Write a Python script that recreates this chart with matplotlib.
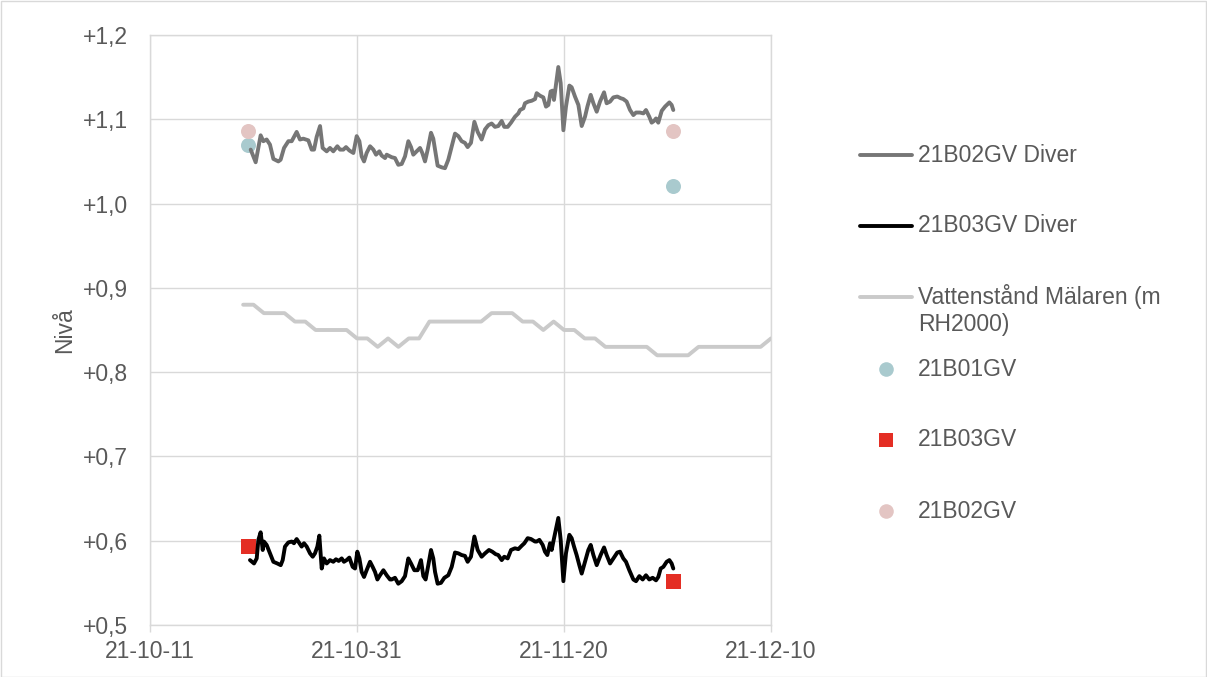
import matplotlib
matplotlib.use('Agg')
import matplotlib.pyplot as plt
import matplotlib.dates as mdates
from matplotlib.lines import Line2D
from matplotlib.patches import Rectangle
import pandas as pd

plt.rcParams['font.family'] = ['Liberation Sans', 'DejaVu Sans']

# ---------------- data ----------------
base = pd.Timestamp('2021-10-11')

# 21B02GV Diver (days after 2021-10-11, level)
d02_days = [9.73, 10.21, 10.69, 10.95, 11.27, 11.59, 11.92, 12.40, 12.62, 12.95, 13.37, 13.69, 14.17, 14.49,
            14.81, 15.30, 15.62, 15.85, 16.10, 16.43, 16.68, 17.07, 17.39, 17.71, 18.10, 18.36, 18.68, 18.94,
            19.26, 19.65, 19.97, 20.23, 20.45, 20.68, 20.93, 21.26, 21.58, 21.84, 22.16, 22.38, 22.71, 22.87,
            23.19,
            23.35, 23.67, 23.99, 24.32, 24.64, 24.96, 25.22, 25.44, 25.76, 26.09, 26.31, 26.57, 26.83, 27.15,
            27.37, 27.54, 27.79, 28.18, 28.50, 28.82, 29.15, 29.47, 29.79, 30.11, 30.43, 30.69, 31.01, 31.34,
            31.66, 32.04, 32.37, 32.69, 33.01, 33.33, 33.65, 33.98, 34.23, 34.56, 34.88, 35.26, 35.59, 35.75,
            36.07, 36.23, 36.55, 36.88, 37.20,
            37.36, 37.68, 38.00, 38.26, 38.49, 38.71, 38.90, 39.03, 39.45, 39.68, 39.94, 40.19, 40.52, 40.74,
            41.06, 41.39, 41.71, 42.03, 42.26, 42.58, 42.84, 43.16, 43.48, 43.87, 44.12, 44.45, 44.77, 45.15,
            45.48, 45.73, 46.05, 46.38, 46.70, 46.96, 47.34, 47.67, 47.92, 48.24, 48.47, 48.70, 48.89, 49.11,
            49.44, 49.76, 50.18, 50.40, 50.56]
d02_vals = [1.064, 1.049, 1.081, 1.074, 1.076, 1.070, 1.053, 1.050, 1.052, 1.066, 1.074, 1.074, 1.085, 1.076,
            1.077, 1.075, 1.064, 1.064, 1.079, 1.092, 1.066, 1.062, 1.066, 1.062, 1.068, 1.064, 1.064, 1.067,
            1.063, 1.060, 1.080, 1.074, 1.056, 1.050, 1.060, 1.068, 1.064, 1.058, 1.062, 1.057, 1.054, 1.058,
            1.056,
            1.055, 1.054, 1.046, 1.047, 1.056, 1.074, 1.067, 1.058, 1.062, 1.066, 1.060, 1.050, 1.064, 1.084,
            1.077, 1.064, 1.045, 1.043, 1.042, 1.052, 1.068, 1.083, 1.080, 1.074, 1.072, 1.067, 1.072, 1.097,
            1.085, 1.076, 1.088, 1.093, 1.095, 1.091, 1.092, 1.098, 1.091, 1.091, 1.096, 1.103, 1.107, 1.111,
            1.113, 1.119, 1.121, 1.122, 1.124,
            1.131, 1.128, 1.126, 1.115, 1.117, 1.133, 1.134, 1.123, 1.162, 1.143, 1.087, 1.115, 1.140, 1.138,
            1.127, 1.117, 1.092, 1.103, 1.115, 1.129, 1.119, 1.109, 1.121, 1.132, 1.119, 1.121, 1.126, 1.127,
            1.125, 1.124, 1.121, 1.111, 1.105, 1.108, 1.108, 1.107, 1.111, 1.103, 1.096, 1.098, 1.101, 1.096,
            1.110, 1.115, 1.120, 1.117, 1.111]

# 21B03GV Diver
d03_days = [9.66, 10.05, 10.31, 10.47, 10.69, 10.89, 11.01, 11.27, 11.59, 11.92, 12.30, 12.63, 12.82, 13.04,
            13.37, 13.69, 13.91, 14.17, 14.43, 14.65, 14.88, 15.14, 15.46, 15.72, 15.94, 16.17, 16.36, 16.59,
            16.81, 17.07, 17.39, 17.71, 17.97, 18.23, 18.52, 18.74, 19.00, 19.26, 19.58, 19.81, 20.03, 20.23,
            20.45, 20.68, 20.93, 21.26, 21.51, 21.74, 21.97, 22.22, 22.55, 22.87, 23.19,
            23.35, 23.67, 23.99, 24.32, 24.64, 24.96, 25.22, 25.54, 25.86, 26.18, 26.41, 26.63, 26.89, 27.15,
            27.37, 27.54, 27.79, 28.11, 28.44, 28.82, 29.15, 29.47, 29.79, 30.11, 30.43, 30.69, 31.01, 31.34,
            31.66, 32.04, 32.37, 32.75, 33.07, 33.40, 33.65, 33.98, 34.23, 34.56, 34.88, 35.26, 35.59, 35.91,
            36.17, 36.49, 36.81, 37.20,
            37.36, 37.62, 37.94, 38.16, 38.39, 38.65, 38.81, 38.97, 39.45, 39.68, 39.94, 40.19, 40.52, 40.74,
            40.97, 41.22, 41.48, 41.71, 42.03, 42.35, 42.58, 42.84, 43.16, 43.54, 43.87, 44.12, 44.45, 44.77,
            45.15, 45.41, 45.73, 45.99, 46.31, 46.70, 46.96, 47.28, 47.60, 47.92, 48.24, 48.57, 48.89, 49.11,
            49.34, 49.60, 49.92, 50.18, 50.40, 50.56]
d03_vals = [0.577, 0.573, 0.579, 0.601, 0.610, 0.589, 0.599, 0.595, 0.585, 0.575, 0.573, 0.571, 0.577, 0.593,
            0.598, 0.599, 0.597, 0.602, 0.597, 0.593, 0.597, 0.593, 0.585, 0.581, 0.585, 0.593, 0.606, 0.567,
            0.579, 0.573, 0.577, 0.575, 0.578, 0.576, 0.579, 0.575, 0.577, 0.580, 0.569, 0.567, 0.587, 0.579,
            0.563, 0.557, 0.565, 0.575, 0.569, 0.563, 0.554, 0.559, 0.565, 0.559, 0.554,
            0.554, 0.556, 0.549, 0.552, 0.558, 0.579, 0.573, 0.565, 0.565, 0.577, 0.558, 0.554, 0.571, 0.589,
            0.579, 0.563, 0.549, 0.550, 0.556, 0.559, 0.569, 0.586, 0.585, 0.583, 0.582, 0.575, 0.581, 0.605,
            0.589, 0.581, 0.585, 0.589, 0.587, 0.584, 0.583, 0.577, 0.581, 0.579, 0.589, 0.591, 0.590, 0.594,
            0.597, 0.603, 0.602, 0.599,
            0.599, 0.601, 0.595, 0.587, 0.583, 0.597, 0.589, 0.599, 0.627, 0.601, 0.552, 0.585, 0.607, 0.603,
            0.593, 0.583, 0.571, 0.561, 0.575, 0.589, 0.595, 0.583, 0.571, 0.583, 0.592, 0.583, 0.573, 0.579,
            0.586, 0.587, 0.579, 0.575, 0.565, 0.554, 0.552, 0.558, 0.554, 0.559, 0.554, 0.556, 0.553, 0.557,
            0.567, 0.569, 0.575, 0.577, 0.573, 0.567]

# Vattenstånd Mälaren (daily, from 2021-10-20)
malaren_start = '2021-10-20'
malaren_vals = [0.88, 0.88, 0.87, 0.87, 0.87, 0.86, 0.86, 0.85, 0.85, 0.85, 0.85, 0.84, 0.84, 0.83,
                0.84, 0.83, 0.84, 0.84, 0.86, 0.86, 0.86, 0.86, 0.86, 0.86, 0.87, 0.87, 0.87, 0.86,
                0.86, 0.85, 0.86, 0.85, 0.85, 0.84, 0.84, 0.83, 0.83, 0.83, 0.83, 0.83, 0.82, 0.82,
                0.82, 0.82, 0.83, 0.83, 0.83, 0.83, 0.83, 0.83, 0.83, 0.84]

# manual measurements
manual_dates = ['2021-10-20 11:00', '2021-11-30 12:00']
b01_vals = [1.070, 1.021]
b03_vals = [0.594, 0.552]
b02_vals = [1.086, 1.086]

yticks = [0.5, 0.6, 0.7, 0.8, 0.9, 1.0, 1.1, 1.2]
xticks = ['2021-10-11', '2021-10-31', '2021-11-20', '2021-12-10']

# ---------------- style ----------------
C_GRID = '#D9D9D9'
C_TEXT = '#595959'
C_D02 = '#767676'
C_D03 = '#000000'
C_MAL = '#CACACA'
C_B01 = '#A9CACE'
C_B03 = '#E42E24'
C_B02 = '#E3C5C3'
FS = 16.5
LW = 2.8

W, H = 1207, 677
fig = plt.figure(figsize=(W / 100, H / 100), dpi=100)
ax = fig.add_axes([150 / W, 1 - 625 / H, 621 / W, 590 / H])

t02 = base + pd.to_timedelta(d02_days, unit='D')
t03 = base + pd.to_timedelta(d03_days, unit='D')
tmal = pd.date_range(malaren_start, periods=len(malaren_vals), freq='D')
tman = pd.to_datetime(manual_dates)

ax.plot(tmal, malaren_vals, color=C_MAL, lw=LW, solid_capstyle='round', zorder=3)
ax.scatter(tman, b01_vals, s=10.8 ** 2, color=C_B01, marker='o', linewidths=0, zorder=2)
ax.scatter(tman, b03_vals, s=10.8 ** 2, color=C_B03, marker='s', linewidths=0, zorder=2)
ax.scatter(tman, b02_vals, s=10.8 ** 2, color=C_B02, marker='o', linewidths=0, zorder=2)
ax.plot(t02, d02_vals, color=C_D02, lw=LW, solid_joinstyle='round', solid_capstyle='round', zorder=4)
ax.plot(t03, d03_vals, color=C_D03, lw=LW, solid_joinstyle='round', solid_capstyle='round', zorder=4)

ax.set_xlim(pd.Timestamp(xticks[0]), pd.Timestamp(xticks[-1]))
ax.set_ylim(yticks[0], yticks[-1])
ax.set_xticks(pd.to_datetime(xticks))
ax.xaxis.set_major_formatter(mdates.DateFormatter('%y-%m-%d'))
ax.set_yticks(yticks)
ax.set_yticklabels(['+' + f'{v:.1f}'.replace('.', ',') for v in yticks])

ax.grid(True, color=C_GRID, lw=1.0, zorder=0)
ax.set_axisbelow(True)
for s in ax.spines.values():
    s.set_color(C_GRID)
    s.set_linewidth(1.0)
ax.tick_params(axis='y', length=0, pad=16, labelsize=FS, labelcolor=C_TEXT)
ax.tick_params(axis='x', length=5, width=1.0, color=C_GRID, pad=6, labelsize=FS, labelcolor=C_TEXT)
ax.set_ylabel('Nivå', fontsize=FS, color=C_TEXT)
ax.yaxis.set_label_coords(-0.119, 0.5)

# ---------------- legend (Excel-style, right side) ----------------
def fx(px):
    return px / W


def fy(py):
    return 1 - py / H


entries = [
    ('line', C_D02, '21B02GV Diver', 155),
    ('line', C_D03, '21B03GV Diver', 226),
    ('line', C_MAL, 'Vattenstånd Mälaren (m\nRH2000)', 297),
    ('o', C_B01, '21B01GV', 369),
    ('s', C_B03, '21B03GV', 440),
    ('o', C_B02, '21B02GV', 511),
]
for kind, col, label, py in entries:
    if kind == 'line':
        fig.add_artist(Line2D([fx(860), fx(912)], [fy(py), fy(py)], color=col, lw=LW,
                              solid_capstyle='round', transform=fig.transFigure))
    else:
        fig.add_artist(Line2D([fx(886)], [fy(py)], marker=kind, color=col, markersize=10.5,
                              markeredgewidth=0, linestyle='none', transform=fig.transFigure))
    if '\n' in label:
        fig.text(fx(918), fy(py - 13), label, ha='left', va='top', fontsize=FS, color=C_TEXT,
                 linespacing=1.25)
    else:
        fig.text(fx(918), fy(py), label, ha='left', va='center', fontsize=FS, color=C_TEXT)

fig.add_artist(Rectangle((0.5 / W, 0.5 / H), 1 - 1.5 / W, 1 - 1.5 / H, transform=fig.transFigure,
                         fill=False, edgecolor=C_GRID, lw=1.0))

fig.savefig('out.png', dpi=100)
